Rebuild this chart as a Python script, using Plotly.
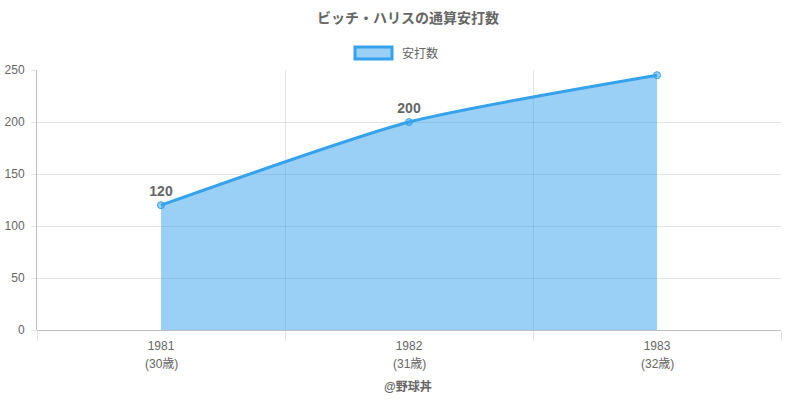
import plotly.graph_objects as go

years = ["1981", "1982", "1983"]
ages = ["(30歳)", "(31歳)", "(32歳)"]
hits = [120, 200, 245]

TITLE = "ビッチ・ハリスの通算安打数"
SERIES = "安打数"
CREDIT = "@野球丼"

LINE = "#36a2eb"
FILL = "rgba(54,162,235,0.5)"
GREY = "#666666"
FONT = "Liberation Sans, Noto Sans CJK JP, sans-serif"

W, H = 800, 400
PL, PR, PT, PB = 37, 19, 70, 70
PW, PH = W - PL - PR, H - PT - PB


def px(x):
    # window pixel -> paper x
    return (x - PL) / PW


def py(y):
    # window pixel -> paper y
    return (H - PB - y) / PH


xs = list(range(len(years)))

fig = go.Figure(
    go.Scatter(
        x=xs,
        y=hits,
        mode="lines+markers+text",
        fill="tozeroy",
        fillcolor=FILL,
        line=dict(color=LINE, width=3, shape="spline", smoothing=0.6),
        marker=dict(size=7, color="rgba(54,162,235,0.5)", line=dict(color=LINE, width=1)),
        text=[f"<b>{v}</b>" for v in hits],
        textposition="top center",
        textfont=dict(size=14, color=GREY),
        showlegend=False,
        hoverinfo="skip",
    )
)

# second line of the category labels (age), spaced like the original
for x, a in zip(xs, ages):
    fig.add_annotation(text=a, x=x, xref="x", y=py(364), yref="paper",
                       xanchor="center", yanchor="middle", showarrow=False,
                       font=dict(size=12, color=GREY))

# legend box drawn by hand to match the chart.js look
fig.add_shape(type="rect", xref="paper", yref="paper",
              x0=px(355), x1=px(392), y0=py(59), y1=py(47),
              fillcolor=FILL, line=dict(color=LINE, width=3))
fig.add_annotation(text=SERIES, xref="paper", yref="paper",
                   x=px(400), y=py(53), xanchor="left", yanchor="middle",
                   showarrow=False, font=dict(size=12, color=GREY))
fig.add_annotation(text=f"<b>{CREDIT}</b>", xref="paper", yref="paper",
                   x=px(408), y=py(386), xanchor="center", yanchor="middle",
                   showarrow=False, font=dict(size=12, color=GREY))

fig.update_layout(
    width=W,
    height=H,
    margin=dict(l=PL, r=PR, t=PT, b=PB),
    paper_bgcolor="white",
    plot_bgcolor="white",
    font=dict(family=FONT, color=GREY, size=12),
    title=dict(text=f"<b>{TITLE}</b>", x=px(408), xref="paper", xanchor="center",
               y=1 - 18 / H, yanchor="middle", font=dict(size=14, color=GREY)),
    xaxis=dict(
        range=[-0.5, len(years) - 0.5],
        tickvals=xs,
        ticktext=years,
        showgrid=False,
        ticks="",
        ticklabelstandoff=7,
        tickfont=dict(size=12, color=GREY),
        minor=dict(tick0=0.5, dtick=1, showgrid=True, gridcolor="rgba(0,0,0,0.1)",
                   ticks="outside", ticklen=10, tickcolor="rgba(0,0,0,0.1)"),
        showline=False,
        zeroline=False,
        automargin=False,
        fixedrange=True,
    ),
    yaxis=dict(
        range=[0, 250],
        dtick=50,
        showgrid=True,
        gridcolor="rgba(0,0,0,0.1)",
        ticks="outside",
        ticklen=5,
        tickcolor="rgba(0,0,0,0.1)",
        ticklabelstandoff=4,
        showline=True,
        linecolor="rgba(0,0,0,0.25)",
        zeroline=True,
        zerolinecolor="rgba(0,0,0,0.25)",
        zerolinewidth=1,
        tickfont=dict(size=12, color=GREY),
        automargin=False,
        fixedrange=True,
    ),
)

# drop the browser's default body margin so the figure sits at the page corner
fig.write_html(
    "out.html",
    config={"displayModeBar": False},
    post_script="document.body.style.margin='0';document.body.style.overflow='hidden';",
)
